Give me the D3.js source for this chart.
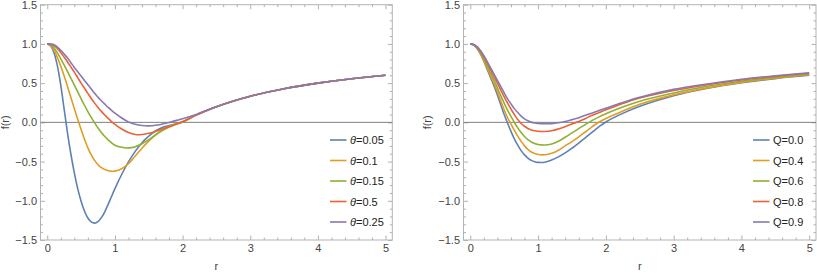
<!DOCTYPE html>
<html lang="en">
<head>
<meta charset="UTF-8">
<title>f(r) curves</title>
<script src="https://d3js.org/d3.v7.min.js"></script>
<style>
    body { margin: 0; background: #fff; }
    svg { display: block; font-family: "Liberation Sans", Arial, sans-serif; }
    .tick text { fill: #444; font-size: 11px; }
    .tick line { stroke: #b0b0b0; }
    .domain { display: none; }
</style>
</head>
<body>
<svg id="chart" width="817" height="273"></svg>
<script>
// sample radii shared by every curve
const rGrid = [0, 0.05, 0.1, 0.15, 0.2, 0.25, 0.3, 0.35, 0.4, 0.45, 0.5, 0.55, 0.6, 0.65, 0.7, 0.75, 0.8, 0.85, 0.9, 0.95, 1.0,
    1.1, 1.2, 1.3, 1.4, 1.5, 1.6, 1.7, 1.8, 1.9, 2.0, 2.2, 2.5, 3, 3.5, 4, 4.5, 5];

// left panel: theta series
const thetaLabels = ["0.05", "0.1", "0.15", "0.5", "0.25"];
const fTheta005 = [1, 0.975, 0.885, 0.72, 0.47, 0.165, -0.14, -0.41, -0.645, -0.845, -1.005, -1.13, -1.22, -1.27, -1.285, -1.265, -1.215, -1.14, -1.045, -0.945, -0.845,
    -0.665, -0.505, -0.37, -0.26, -0.175, -0.11, -0.065, -0.04, -0.018, 0.008, 0.092, 0.2, 0.333, 0.429, 0.5, 0.556, 0.6];
const fTheta01 = [1, 0.98, 0.92, 0.825, 0.715, 0.59, 0.455, 0.315, 0.175, 0.04, -0.09, -0.215, -0.325, -0.415, -0.485, -0.54, -0.578, -0.602, -0.616, -0.623, -0.622,
    -0.592, -0.527, -0.43, -0.33, -0.24, -0.16, -0.095, -0.05, -0.02, 0.005, 0.092, 0.2, 0.333, 0.429, 0.5, 0.556, 0.6];
const fTheta015 = [1, 0.99, 0.95, 0.885, 0.81, 0.73, 0.647, 0.562, 0.475, 0.388, 0.302, 0.218, 0.138, 0.063, -0.007, -0.071, -0.129, -0.18, -0.224, -0.261, -0.291,
    -0.318, -0.326, -0.31, -0.272, -0.22, -0.16, -0.105, -0.06, -0.025, 0.003, 0.092, 0.2, 0.333, 0.429, 0.5, 0.556, 0.6];
const fTheta05 = [1, 0.995, 0.98, 0.94, 0.89, 0.83, 0.77, 0.705, 0.64, 0.57, 0.50, 0.435, 0.37, 0.305, 0.245, 0.19, 0.14, 0.093, 0.05, 0.01, -0.025,
    -0.085, -0.13, -0.155, -0.155, -0.14, -0.115, -0.085, -0.055, -0.025, 0.008, 0.092, 0.2, 0.333, 0.429, 0.5, 0.556, 0.6];
const fTheta025 = [1, 0.998, 0.99, 0.96, 0.92, 0.87, 0.82, 0.76, 0.70, 0.645, 0.59, 0.535, 0.48, 0.425, 0.37, 0.32, 0.275, 0.232, 0.19, 0.153, 0.118,
    0.055, 0.005, -0.025, -0.04, -0.045, -0.038, -0.022, -0.002, 0.022, 0.045, 0.1, 0.2, 0.333, 0.429, 0.5, 0.556, 0.6];

// right panel: charge series
const chargeLabels = ["0.0", "0.4", "0.6", "0.8", "0.9"];
const fQ00 = [1, 0.985, 0.94, 0.87, 0.78, 0.675, 0.57, 0.465, 0.35, 0.225, 0.10, -0.01, -0.115, -0.21, -0.29, -0.36, -0.415, -0.455, -0.485, -0.502, -0.51,
    -0.508, -0.48, -0.44, -0.39, -0.33, -0.265, -0.195, -0.125, -0.055, 0.005, 0.095, 0.205, 0.34, 0.435, 0.505, 0.558, 0.6];
const fQ04 = [1, 0.988, 0.95, 0.88, 0.79, 0.69, 0.595, 0.495, 0.39, 0.275, 0.16, 0.06, -0.02, -0.1, -0.175, -0.24, -0.30, -0.345, -0.378, -0.398, -0.41,
    -0.413, -0.395, -0.355, -0.30, -0.245, -0.185, -0.12, -0.055, 0.005, 0.05, 0.125, 0.23, 0.35, 0.44, 0.51, 0.563, 0.606];
const fQ06 = [1, 0.99, 0.955, 0.89, 0.81, 0.72, 0.63, 0.54, 0.44, 0.34, 0.245, 0.155, 0.075, 0.0, -0.07, -0.13, -0.18, -0.22, -0.25, -0.27, -0.283,
    -0.289, -0.275, -0.24, -0.19, -0.135, -0.08, -0.025, 0.025, 0.07, 0.11, 0.18, 0.27, 0.375, 0.46, 0.525, 0.574, 0.614];
const fQ08 = [1, 0.99, 0.96, 0.905, 0.835, 0.755, 0.67, 0.585, 0.50, 0.41, 0.325, 0.245, 0.17, 0.10, 0.035, -0.015, -0.05, -0.078, -0.097, -0.108, -0.114,
    -0.116, -0.108, -0.085, -0.055, -0.02, 0.01, 0.05, 0.09, 0.125, 0.16, 0.225, 0.31, 0.405, 0.48, 0.54, 0.586, 0.626];
const fQ09 = [1, 0.992, 0.965, 0.915, 0.85, 0.775, 0.695, 0.615, 0.535, 0.455, 0.375, 0.30, 0.235, 0.175, 0.125, 0.08, 0.045, 0.02, 0.003, -0.007, -0.013,
    -0.017, -0.016, -0.005, 0.012, 0.035, 0.06, 0.09, 0.12, 0.15, 0.18, 0.24, 0.32, 0.42, 0.49, 0.55, 0.595, 0.632];

const colors = ["#5e81b5", "#e19c24", "#8fb032", "#eb6235", "#8778b3"];
const xMajor = [0, 1, 2, 3, 4, 5];
const yMajor = [-1.5, -1.0, -0.5, 0.0, 0.5, 1.0, 1.5];

const svg = d3.select("#chart");

function drawPanel(left, right, series, labels, prefix, italic, legendX, ylabX) {
    const top = 4.7, bottom = 240;
    const x = d3.scaleLinear().domain([-0.1, 5.1]).range([left, right]);
    const y = d3.scaleLinear().domain([-1.5, 1.5]).range([bottom, top]);
    const g = svg.append("g");

    const xMinor = d3.range(0, 5.01, 0.2).filter(v => Math.abs(v - Math.round(v)) > 1e-6);
    const yMinor = d3.range(-1.5, 1.51, 0.1).filter(v => Math.abs(v * 2 - Math.round(v * 2)) > 1e-6);

    // minor ticks on all four sides
    g.append("g").attr("transform", `translate(0,${bottom})`)
        .call(d3.axisBottom(x).tickValues(xMinor).tickSize(-2.5).tickSizeOuter(0).tickFormat(""));
    g.append("g").attr("transform", `translate(0,${top})`)
        .call(d3.axisTop(x).tickValues(xMinor).tickSize(-2.5).tickSizeOuter(0).tickFormat(""));
    g.append("g").attr("transform", `translate(${left},0)`)
        .call(d3.axisLeft(y).tickValues(yMinor).tickSize(-2.5).tickSizeOuter(0).tickFormat(""));
    g.append("g").attr("transform", `translate(${right},0)`)
        .call(d3.axisRight(y).tickValues(yMinor).tickSize(-2.5).tickSizeOuter(0).tickFormat(""));

    // major ticks + labels
    g.append("g").attr("transform", `translate(0,${bottom})`)
        .call(d3.axisBottom(x).tickValues(xMajor).tickSize(-4.5).tickSizeOuter(0).tickPadding(4).tickFormat(d3.format("d")));
    g.append("g").attr("transform", `translate(0,${top})`)
        .call(d3.axisTop(x).tickValues(xMajor).tickSize(-4.5).tickSizeOuter(0).tickFormat(""));
    g.append("g").attr("transform", `translate(${left},0)`)
        .call(d3.axisLeft(y).tickValues(yMajor).tickSize(-4.5).tickSizeOuter(0).tickPadding(3.5).tickFormat(d3.format(".1f")));
    g.append("g").attr("transform", `translate(${right},0)`)
        .call(d3.axisRight(y).tickValues(yMajor).tickSize(-4.5).tickSizeOuter(0).tickFormat(""));

    // frame
    g.append("rect")
        .attr("x", left).attr("y", top)
        .attr("width", right - left).attr("height", bottom - top)
        .attr("fill", "none").attr("stroke", "#b3b3b3").attr("stroke-width", 1);

    // zero axis
    g.append("line")
        .attr("x1", left).attr("x2", right)
        .attr("y1", y(0)).attr("y2", y(0))
        .attr("stroke", "#7f7f7f").attr("stroke-width", 1);

    const clip = "clip" + prefix;
    svg.append("clipPath").attr("id", clip)
        .append("rect").attr("x", left).attr("y", top).attr("width", right - left).attr("height", bottom - top);

    const line = d3.line()
        .x((d, i) => x(rGrid[i]))
        .y(d => y(d))
        .curve(d3.curveCatmullRom.alpha(0.5));

    g.append("g").attr("clip-path", `url(#${clip})`)
        .selectAll("path")
        .data(series)
        .join("path")
        .attr("d", d => line(d))
        .attr("fill", "none")
        .attr("stroke", (d, i) => colors[i])
        .attr("stroke-width", 1.6)
        .attr("stroke-linejoin", "round");

    // legend
    const rows = [140, 160.5, 181, 201.5, 222];
    const leg = g.append("g");
    labels.forEach((lab, i) => {
        leg.append("line")
            .attr("x1", legendX).attr("x2", legendX + 16.5)
            .attr("y1", rows[i]).attr("y2", rows[i])
            .attr("stroke", colors[i]).attr("stroke-width", 1.6);
        const t = leg.append("text")
            .attr("x", legendX + 20).attr("y", rows[i] + 4)
            .attr("font-size", 11).attr("fill", "#222");
        t.append("tspan").attr("font-style", italic ? "italic" : "normal").text(prefix);
        t.append("tspan").text("=" + lab);
    });

    // axis titles
    g.append("text")
        .attr("x", (x(0) + x(5)) / 2).attr("y", 269.5)
        .attr("text-anchor", "middle").attr("font-size", 11).attr("fill", "#444")
        .text("r");
    g.append("text")
        .attr("transform", `translate(${ylabX},${y(0)}) rotate(-90)`)
        .attr("text-anchor", "middle").attr("font-size", 11).attr("fill", "#444")
        .text("f(r)");
}

drawPanel(40.5, 392.3, [fTheta005, fTheta01, fTheta015, fTheta05, fTheta025], thetaLabels, "θ", true, 330, 9);
drawPanel(463.5, 816, [fQ00, fQ04, fQ06, fQ08, fQ09], chargeLabels, "Q", false, 753, 431);
</script>
</body>
</html>
